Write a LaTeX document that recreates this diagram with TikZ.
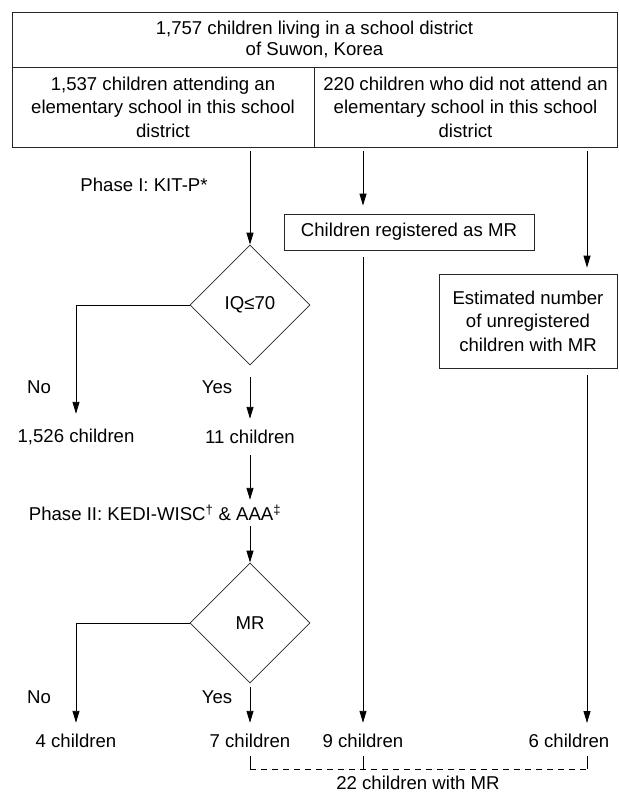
\documentclass[tikz,border=0pt]{standalone}
\usepackage{fontspec}
\setmainfont{Liberation Sans}
\usetikzlibrary{arrows.meta}
\usetikzlibrary{positioning}
\usetikzlibrary{shapes.geometric}

\begin{document}
\begin{tikzpicture}[x=1pt,y=-1pt,
		font=\fontsize{18.6}{23.5}\selectfont,
		box/.style={rectangle,draw=black!85,line width=0.8pt,inner sep=0pt,align=center},
		decision/.style={diamond,aspect=1,draw=black!85,line width=0.8pt,inner sep=0pt,minimum width=120pt,minimum height=120pt},
		count/.style={inner sep=0pt,minimum height=36pt},
		flow/.style={line width=0.9pt,-{Triangle[length=12pt,width=7pt]}},
		link/.style={line width=0.8pt,dash pattern=on 6pt off 5pt},
		node distance = 4pt and 6pt]
		
		\useasboundingbox (0,0) rectangle (618,794);
		
		% boxes on top
		\node[box,minimum width=605pt,minimum height=55pt,font=\fontsize{18.6}{21}\selectfont] (district) at (314.5,39.5)
			{1,757 children living in a school district\\ of Suwon, Korea};
		\node[box,minimum width=302pt,minimum height=80pt] (attend) at (163,107)
			{1,537 children attending an\\ elementary school in this school\\ district};
		\node[box,minimum width=303pt,minimum height=80pt] (notattend) at (465.5,107)
			{220 children who did not attend an\\ elementary school in this school\\ district};
		
		% node positions
		\node[inner sep=0pt] (phase1) at (144,185) {Phase I: KIT-P*};
		\node[decision] (iq) at (250,305) {IQ≤70};
		\node[box,minimum width=250pt,minimum height=36pt] (registered) at (409,232) {Children registered as MR};
		\node[box,minimum width=178pt,minimum height=94pt] (estimated) at (528,321)
			{Estimated number\\ of unregistered\\ children with MR};
		\node[inner sep=0pt] (no1) at (39,387) {No};
		\node[inner sep=0pt] (yes1) at (217,387) {Yes};
		\node[count] (rest1) at (76,437) {1,526 children};
		\node[count] (found1) at (250,437) {11 children};
		\node[inner sep=0pt,minimum height=26pt] (phase2) at (155,513)
			{Phase II: KEDI-WISC\textsuperscript{†} \& AAA\textsuperscript{‡}};
		\node[decision] (mr) at (250,623) {MR};
		\node[inner sep=0pt] (no2) at (39,697) {No};
		\node[inner sep=0pt] (yes2) at (217,697) {Yes};
		\node[count] (rest2) at (76,741) {4 children};
		\node[count] (found2) at (250,741) {7 children};
		\node[count] (nine) at (363,741) {9 children};
		\node[count] (six) at (569,741) {6 children};
		\coordinate (sixcol) at (587,741);
		
		% phase I and II
		\draw[flow,shorten <=4pt] (attend.south -| iq.north) -- (iq.north);
		\draw[flow,shorten >=5pt] (iq.west) -| (rest1.north);
		\draw[flow,shorten <=12pt] (iq.south) -- (found1.north);
		\draw[flow] (found1.south) -- (found1.south |- phase2.north);
		\draw[flow] (phase2.south -| mr.north) -- (mr.north);
		\draw[flow] (mr.west) -| (rest2.north);
		\draw[flow,shorten <=4pt] (mr.south) -- (found2.north);
		
		% registered
		\draw[flow,shorten <=4pt,shorten >=8pt] (notattend.south -| nine.north) -- (registered.north -| nine.north);
		\draw[flow,shorten <=7pt] (registered.south -| nine.north) -- (nine.north);
		
		% unregistered
		\draw[flow,shorten <=4pt,shorten >=6pt] (notattend.south -| sixcol) -- (estimated.north -| sixcol);
		\draw[flow,shorten <=7pt,shorten >=18pt] (estimated.south -| sixcol) -- (sixcol);
		
		% total
		\foreach \name in {found2,nine,sixcol}
		\draw[line width=0.8pt] ([yshift=-15pt]\name.center) -- ++(0,13) coordinate (tick\name);
		\draw[link] (tickfound2) -- (ticksixcol);
		\node[inner sep=0pt] (total) at (418,783) {22 children with MR};
		
	\end{tikzpicture}
\end{document}
